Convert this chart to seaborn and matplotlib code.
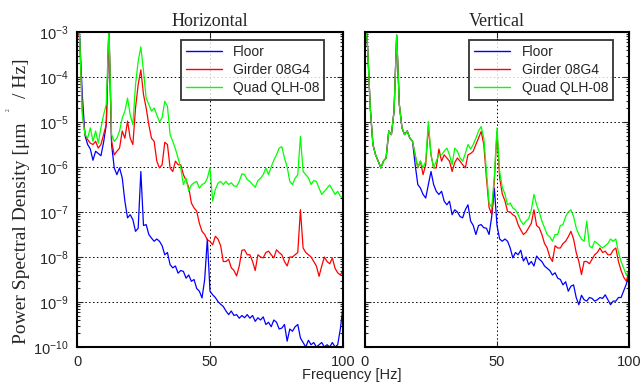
import numpy as np
import matplotlib
matplotlib.use("Agg")
import matplotlib.pyplot as plt
import matplotlib.ticker as mticker
import seaborn as sns

# Frequenzachse (Hz), Werte als log10 der PSD [um^2/Hz]
freq = list(range(0, 101))

h_floor = [-2.5, -3.1, -4.4, -5.3, -5.5, -5.6, -5.85, -5.65, -5.7, -5.75,
           -5.45, -5.06, -2.9, -5.5, -6.02, -6.17, -6.02, -6.24, -6.76, -7.13,
           -7.06, -7.17, -7.43, -7.36, -6.1, -7.3, -7.28, -7.5, -7.58, -7.65,
           -7.6, -7.65, -7.75, -7.95, -7.9, -8.17, -8.24, -8.2, -8.36, -8.3,
           -8.32, -8.47, -8.4, -8.54, -8.5, -8.7, -8.76, -8.91, -8.5, -7.6,
           -8.76, -8.84, -8.9, -8.99, -9.05, -9.1, -9.2, -9.28, -9.2, -9.3,
           -9.28, -9.36, -9.3, -9.35, -9.28, -9.36, -9.3, -9.43, -9.35, -9.4,
           -9.33, -9.5, -9.45, -9.55, -9.4, -9.45, -9.6, -9.58, -9.5, -9.87,
           -9.6, -9.65, -9.55, -9.5, -9.8, -9.9, -10.0, -9.85, -9.95, -9.9,
           -10.0, -9.95, -9.9, -10.0, -9.95, -10.0, -9.9, -10.0, -9.95, -9.6,
           -9.1]
h_girder = [-2.5, -3.2, -4.76, -5.28, -5.39, -5.47, -5.5, -5.43, -5.58, -5.5,
            -5.28, -5.06, -2.9, -5.43, -5.73, -5.65, -5.58, -5.2, -5.36, -4.98,
            -5.36, -5.5, -4.69, -4.17, -3.84, -4.39, -4.69, -5.06, -5.36, -5.43,
            -5.87, -6.02, -5.95, -5.45, -5.5, -6.02, -6.1, -5.87, -5.95, -5.95,
            -6.17, -6.3, -6.45, -6.8, -6.91, -6.98, -7.25, -7.43, -7.5, -7.62,
            -7.65, -7.73, -7.54, -7.6, -7.75, -8.1, -8.1, -8.05, -8.24, -8.3,
            -8.42, -8.2, -7.85, -7.84, -7.95, -7.95, -8.1, -8.3, -7.95, -8.0,
            -8.02, -7.9, -7.87, -7.95, -8.02, -7.84, -7.9, -7.95, -8.1, -8.2,
            -8.0, -8.0, -7.95, -7.9, -6.95, -7.8, -7.9, -7.95, -8.0, -8.1,
            -8.2, -8.43, -8.2, -8.0, -8.1, -8.15, -8.02, -8.25, -8.35, -8.4,
            -8.3]
h_quad = [-2.5, -3.1, -4.84, -5.28, -5.36, -5.13, -5.43, -5.2, -5.47, -5.13,
          -4.84, -4.61, -2.9, -5.28, -5.43, -5.36, -5.2, -4.91, -4.76, -4.47,
          -4.84, -5.06, -4.17, -3.65, -3.33, -3.87, -4.47, -4.61, -4.76, -4.69,
          -4.84, -5.0, -4.9, -4.54, -4.65, -5.28, -5.43, -5.6, -5.8, -6.02,
          -6.39, -6.25, -6.54, -6.4, -6.35, -6.32, -6.47, -6.39, -6.36, -6.25,
          -6.02, -6.76, -6.5, -6.36, -6.32, -6.39, -6.32, -6.39, -6.35, -6.42,
          -6.43, -6.32, -6.15, -6.17, -6.28, -6.32, -6.39, -6.45, -6.3, -6.25,
          -6.17, -6.02, -6.17, -6.0, -5.85, -5.73, -5.58, -5.55, -5.8, -6.0,
          -6.32, -6.39, -6.25, -6.17, -5.32, -6.1, -6.17, -6.24, -6.39, -6.3,
          -6.32, -6.47, -6.61, -6.54, -6.47, -6.4, -6.5, -6.61, -6.54, -6.65,
          -6.69]

v_floor = [-2.5, -3.36, -4.69, -5.5, -5.73, -5.87, -6.02, -5.87, -5.8, -5.2,
           -5.28, -4.76, -3.07, -4.61, -5.13, -5.28, -5.2, -5.36, -5.43, -5.95,
           -6.39, -6.47, -6.61, -6.69, -6.39, -6.1, -6.39, -6.54, -6.61, -6.54,
           -6.76, -6.84, -6.76, -7.06, -6.95, -7.0, -7.1, -7.13, -6.95, -6.84,
           -7.2, -7.3, -7.5, -7.3, -7.28, -7.35, -7.36, -7.5, -7.1, -6.47,
           -7.3, -7.6, -7.65, -7.6, -7.65, -7.8, -8.02, -7.9, -7.95, -7.85,
           -8.09, -8.0, -8.17, -8.1, -8.2, -7.98, -8.05, -8.1, -8.2, -8.25,
           -8.3, -8.4, -8.35, -8.47, -8.5, -8.62, -8.55, -8.76, -8.65, -8.62,
           -8.9, -9.06, -8.85, -8.95, -8.98, -8.9, -8.92, -8.98, -8.95, -8.9,
           -8.92, -8.84, -8.95, -9.06, -8.98, -8.98, -8.9, -8.9, -8.75, -8.6,
           -8.39]
v_girder = [-2.5, -3.36, -4.69, -5.5, -5.73, -5.87, -6.02, -5.87, -5.8, -5.2,
            -5.28, -4.76, -3.07, -4.61, -5.13, -5.28, -5.2, -5.36, -5.43, -5.73,
            -6.02, -5.87, -6.17, -5.95, -5.1, -5.73, -6.02, -6.02, -5.6, -5.87,
            -5.73, -5.8, -5.87, -6.1, -5.9, -5.8, -5.87, -5.95, -6.02, -5.73,
            -5.7, -5.65, -5.5, -5.36, -5.21, -5.5, -6.24, -6.9, -7.05, -6.3,
            -5.21, -6.24, -6.6, -6.75, -6.99, -7.0, -7.06, -7.1, -7.28, -7.4,
            -7.5, -7.45, -7.35, -7.25, -6.95, -7.3, -7.35, -7.5, -7.7, -7.8,
            -8.0, -8.1, -7.75, -7.8, -7.8, -7.7, -7.65, -7.55, -7.43, -7.6,
            -7.9, -8.1, -8.39, -8.1, -8.1, -8.15, -8.05, -7.95, -7.9, -7.8,
            -7.9, -7.87, -7.95, -7.95, -7.85, -7.8, -8.1, -8.3, -8.45, -8.54,
            -8.3]
v_quad = [-2.5, -3.36, -4.69, -5.5, -5.73, -5.87, -6.02, -5.87, -5.8, -5.2,
          -5.28, -4.76, -3.07, -4.61, -5.13, -5.28, -5.2, -5.36, -5.43, -5.73,
          -6.0, -5.87, -6.02, -5.87, -4.99, -5.73, -6.02, -5.87, -5.73, -5.73,
          -5.65, -5.58, -5.73, -5.95, -5.58, -5.65, -5.8, -5.87, -5.7, -5.5,
          -5.6, -5.5, -5.36, -5.2, -5.1, -5.36, -6.1, -6.8, -6.9, -6.2,
          -5.13, -6.1, -6.45, -6.6, -6.84, -6.8, -6.91, -6.95, -7.06, -7.2,
          -7.28, -7.2, -7.15, -6.95, -6.61, -6.84, -7.0, -7.2, -7.35, -7.5,
          -7.55, -7.65, -7.5, -7.5, -7.3, -7.28, -7.1, -7.0, -6.95, -7.1,
          -7.35, -7.5, -7.6, -7.65, -7.2, -7.75, -7.8, -7.65, -7.7, -7.75,
          -7.8, -7.75, -7.7, -7.6, -7.65, -7.6, -7.9, -8.1, -8.25, -8.4,
          -8.3]

labels = ["Floor", "Girder 08G4", "Quad QLH-08"]
colors = ["#0000ff", "#ff0000", "#00ff00"]
titles = ["Horizontal", "Vertical"]
decades = [1e-10, 1e-9, 1e-8, 1e-7, 1e-6, 1e-5, 1e-4, 1e-3]

sns.set_style("ticks")
plt.rcParams["font.family"] = ["Liberation Sans", "DejaVu Sans"]

fig = plt.figure(figsize=(6.43, 3.85), dpi=100)
ax1 = fig.add_axes([77 / 643, 1 - 347 / 385, 266 / 643, 315 / 385])
ax2 = fig.add_axes([365 / 643, 1 - 347 / 385, 264 / 643, 315 / 385])

panels = [(ax1, [h_floor, h_girder, h_quad], 0.929),
          (ax2, [v_floor, v_girder, v_quad], 0.939)]

minor_ticks = [d * k for d in decades[:-1] for k in range(2, 10)]

for i, (ax, series, lx) in enumerate(panels):
    for vals, lab, col in zip(series, labels, colors):
        sns.lineplot(x=freq, y=10 ** np.array(vals), ax=ax, color=col,
                     label=lab, linewidth=0.9)
    ax.set_yscale("log")
    ax.set_xlim(0, 100)
    ax.set_ylim(1e-10, 1e-3)
    ax.set_xticks([0, 50, 100])
    ax.yaxis.set_major_locator(mticker.FixedLocator(decades))
    ax.yaxis.set_major_formatter(mticker.LogFormatterSciNotation())
    ax.yaxis.set_minor_locator(mticker.FixedLocator(minor_ticks))
    ax.yaxis.set_minor_formatter(mticker.NullFormatter())
    ax.tick_params(which="both", direction="in", top=True, right=True,
                   labelsize=10.5, width=0.8)
    ax.tick_params(which="major", length=4, pad=6)
    ax.tick_params(which="minor", length=2)
    for sp in ax.spines.values():
        sp.set_linewidth(1.5)
        sp.set_color("black")
    for yv in decades[1:-1]:
        ax.axhline(yv, color="black", linestyle=(0, (1.5, 2.5)), linewidth=0.7, zorder=0)
    ax.axvline(50, color="black", linestyle=(0, (1.5, 2.5)), linewidth=0.7, zorder=0)
    ax.set_title(titles[i], family=["Liberation Serif"], fontsize=13, pad=4)
    ax.set_xlabel("")
    ax.set_ylabel("")
    leg = ax.legend(loc="upper right", bbox_to_anchor=(lx, 0.975), fontsize=10,
                    frameon=True, fancybox=False, handlelength=2.6,
                    borderpad=0.35, labelspacing=0.3, handletextpad=0.8,
                    borderaxespad=0)
    leg.get_frame().set_edgecolor("black")
    leg.get_frame().set_linewidth(1.3)
    for ln in leg.get_lines():
        ln.set_linewidth(1.0)

ax2.tick_params(labelleft=False)

fig.text(22 / 643, 1 - 201 / 385, "Power Spectral Density [\u03bcm     / Hz]", rotation=90,
         ha="center", va="center", family=["Liberation Serif"], fontsize=14)
fig.text(8 / 643, 1 - 110 / 385, "2", rotation=90, ha="center", va="center",
         family=["Liberation Serif"], fontsize=4)
fig.text(352 / 643, 1 - 368 / 385, "Frequency [Hz]", ha="center", va="top",
         fontsize=10.5)

fig.savefig("out.png", dpi=100)
